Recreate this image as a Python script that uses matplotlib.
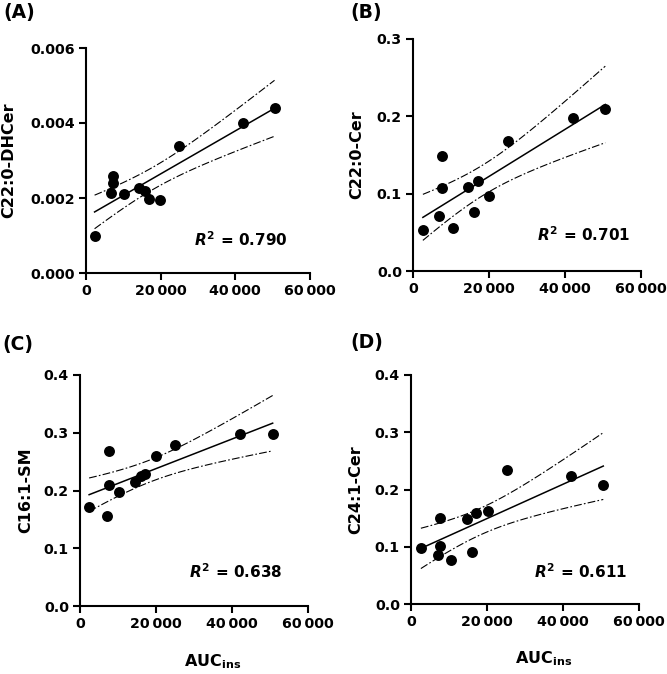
import matplotlib
matplotlib.use("Agg")
import matplotlib.pyplot as plt
import numpy as np

plt.rcParams["font.family"] = "DejaVu Sans"
plt.rcParams["font.weight"] = "bold"
plt.rcParams["mathtext.fontset"] = "custom"
plt.rcParams["mathtext.rm"] = "DejaVu Sans:bold"
plt.rcParams["mathtext.bf"] = "DejaVu Sans:bold"
plt.rcParams["mathtext.it"] = "DejaVu Sans:italic:bold"

# AUC insulina (eixo x, igual nos quatro paineis)
auc_a = [2300, 6600, 7300, 7300, 10100, 14300, 15900, 16800, 19800, 24800, 42000, 50500]
auc_b = [2600, 6900, 7600, 7600, 10500, 14600, 16100, 17000, 20100, 25000, 42200, 50600]
auc_c = [2400, 7000, 7500, 7500, 10300, 14600, 16000, 17100, 20000, 25000, 42200, 50700]
auc_d = [2600, 7000, 7600, 7700, 10600, 14700, 16100, 17100, 20200, 25200, 42200, 50600]

c22_dhcer = [0.00100, 0.00213, 0.00240, 0.00260, 0.00210, 0.00227, 0.00220, 0.00198, 0.00196, 0.00340, 0.00400, 0.00440]
c22_cer = [0.053, 0.071, 0.149, 0.107, 0.055, 0.108, 0.076, 0.117, 0.097, 0.168, 0.198, 0.210]
c16_sm = [0.171, 0.156, 0.269, 0.210, 0.197, 0.215, 0.225, 0.228, 0.260, 0.278, 0.298, 0.297]
c24_cer = [0.097, 0.085, 0.101, 0.151, 0.077, 0.148, 0.090, 0.159, 0.162, 0.234, 0.224, 0.208]

paineis = ["(A)", "(B)", "(C)", "(D)"]
ylabels = ["C22:0-DHCer", "C22:0-Cer", "C16:1-SM", "C24:1-Cer"]
r2_txt = ["0.790", "0.701", "0.638", "0.611"]
xticks = [0, 20000, 40000, 60000]
xticklabels = ["0", "20\u2009000", "40\u2009000", "60\u2009000"]
yticks_a = [0.0, 0.002, 0.004, 0.006]
yticks_b = [0.0, 0.1, 0.2, 0.3]
yticks_cd = [0.0, 0.1, 0.2, 0.3, 0.4]

fig = plt.figure(figsize=(6.67, 6.74), dpi=100)
W, H = 667, 674

def eixo(x0, x1, y0, y1):
    return fig.add_axes([x0 / W, 1 - y1 / H, (x1 - x0) / W, (y1 - y0) / H])

axs = [eixo(86, 310, 48, 273), eixo(413, 641, 39, 271),
       eixo(80, 308, 375, 606), eixo(411, 639, 375, 604)]

dados = [(auc_a, c22_dhcer), (auc_b, c22_cer), (auc_c, c16_sm), (auc_d, c24_cer)]
yticks_all = [yticks_a, yticks_b, yticks_cd, yticks_cd]
yfmt = ["%.3f", "%.1f", "%.1f", "%.1f"]
r2_pos = [(0.48, 0.15), (0.545, 0.155), (0.48, 0.147), (0.54, 0.14)]
ylab_x = [-0.31, -0.215, -0.205, -0.21]
lbl_pos = [(3, 3), (350, 3), (2, 335), (350, 333)]

t = 2.228  # t(0.975, df=10)
for i, ax in enumerate(axs):
    x = np.array(dados[i][0], dtype=float)
    y = np.array(dados[i][1], dtype=float)
    n = len(x)
    b, a = np.polyfit(x, y, 1)
    xg = np.linspace(x.min(), x.max(), 100)
    yg = a + b * xg
    s = np.sqrt(np.sum((y - (a + b * x)) ** 2) / (n - 2))
    sxx = np.sum((x - x.mean()) ** 2)
    se = s * np.sqrt(1 / n + (xg - x.mean()) ** 2 / sxx)
    ax.plot(xg, yg, color="black", lw=1.1)
    for sinal in (-1, 1):
        ax.plot(xg, yg + sinal * t * se, color="black", lw=0.8, dashes=[7, 2, 1.5, 2])
    ax.scatter(x, y, s=62, color="black", zorder=3, linewidths=0)

    yt = yticks_all[i]
    ax.set_xlim(0, 60000)
    ax.set_ylim(yt[0], yt[-1])
    ax.set_xticks(xticks)
    ax.set_xticklabels(xticklabels)
    ax.set_yticks(yt)
    ax.set_yticklabels([yfmt[i] % v for v in yt])
    for sp in ["top", "right"]:
        ax.spines[sp].set_visible(False)
    for sp in ["left", "bottom"]:
        ax.spines[sp].set_linewidth(1.5)
    ax.tick_params(direction="out", length=5, width=1.5, labelsize=10.2, pad=3)
    for lb in ax.get_xticklabels() + ax.get_yticklabels():
        lb.set_fontweight("bold")

    ax.set_ylabel(ylabels[i], fontsize=11.5, fontweight="bold")
    ax.yaxis.set_label_coords(ylab_x[i], 0.5)
    ax.text(r2_pos[i][0], r2_pos[i][1], "$R^2$ = " + r2_txt[i], transform=ax.transAxes,
            fontsize=11, fontweight="bold", ha="left", va="center")
    if i >= 2:
        ax.set_xlabel("AUC$_{\\rm ins}$", fontsize=11.5, fontweight="bold")
        ax.xaxis.set_label_coords(0.58, -0.2)
    fig.text(lbl_pos[i][0] / W, 1 - lbl_pos[i][1] / H, paineis[i], fontsize=13.5,
             fontweight="bold", ha="left", va="top")

fig.savefig("out.png", dpi=100)
